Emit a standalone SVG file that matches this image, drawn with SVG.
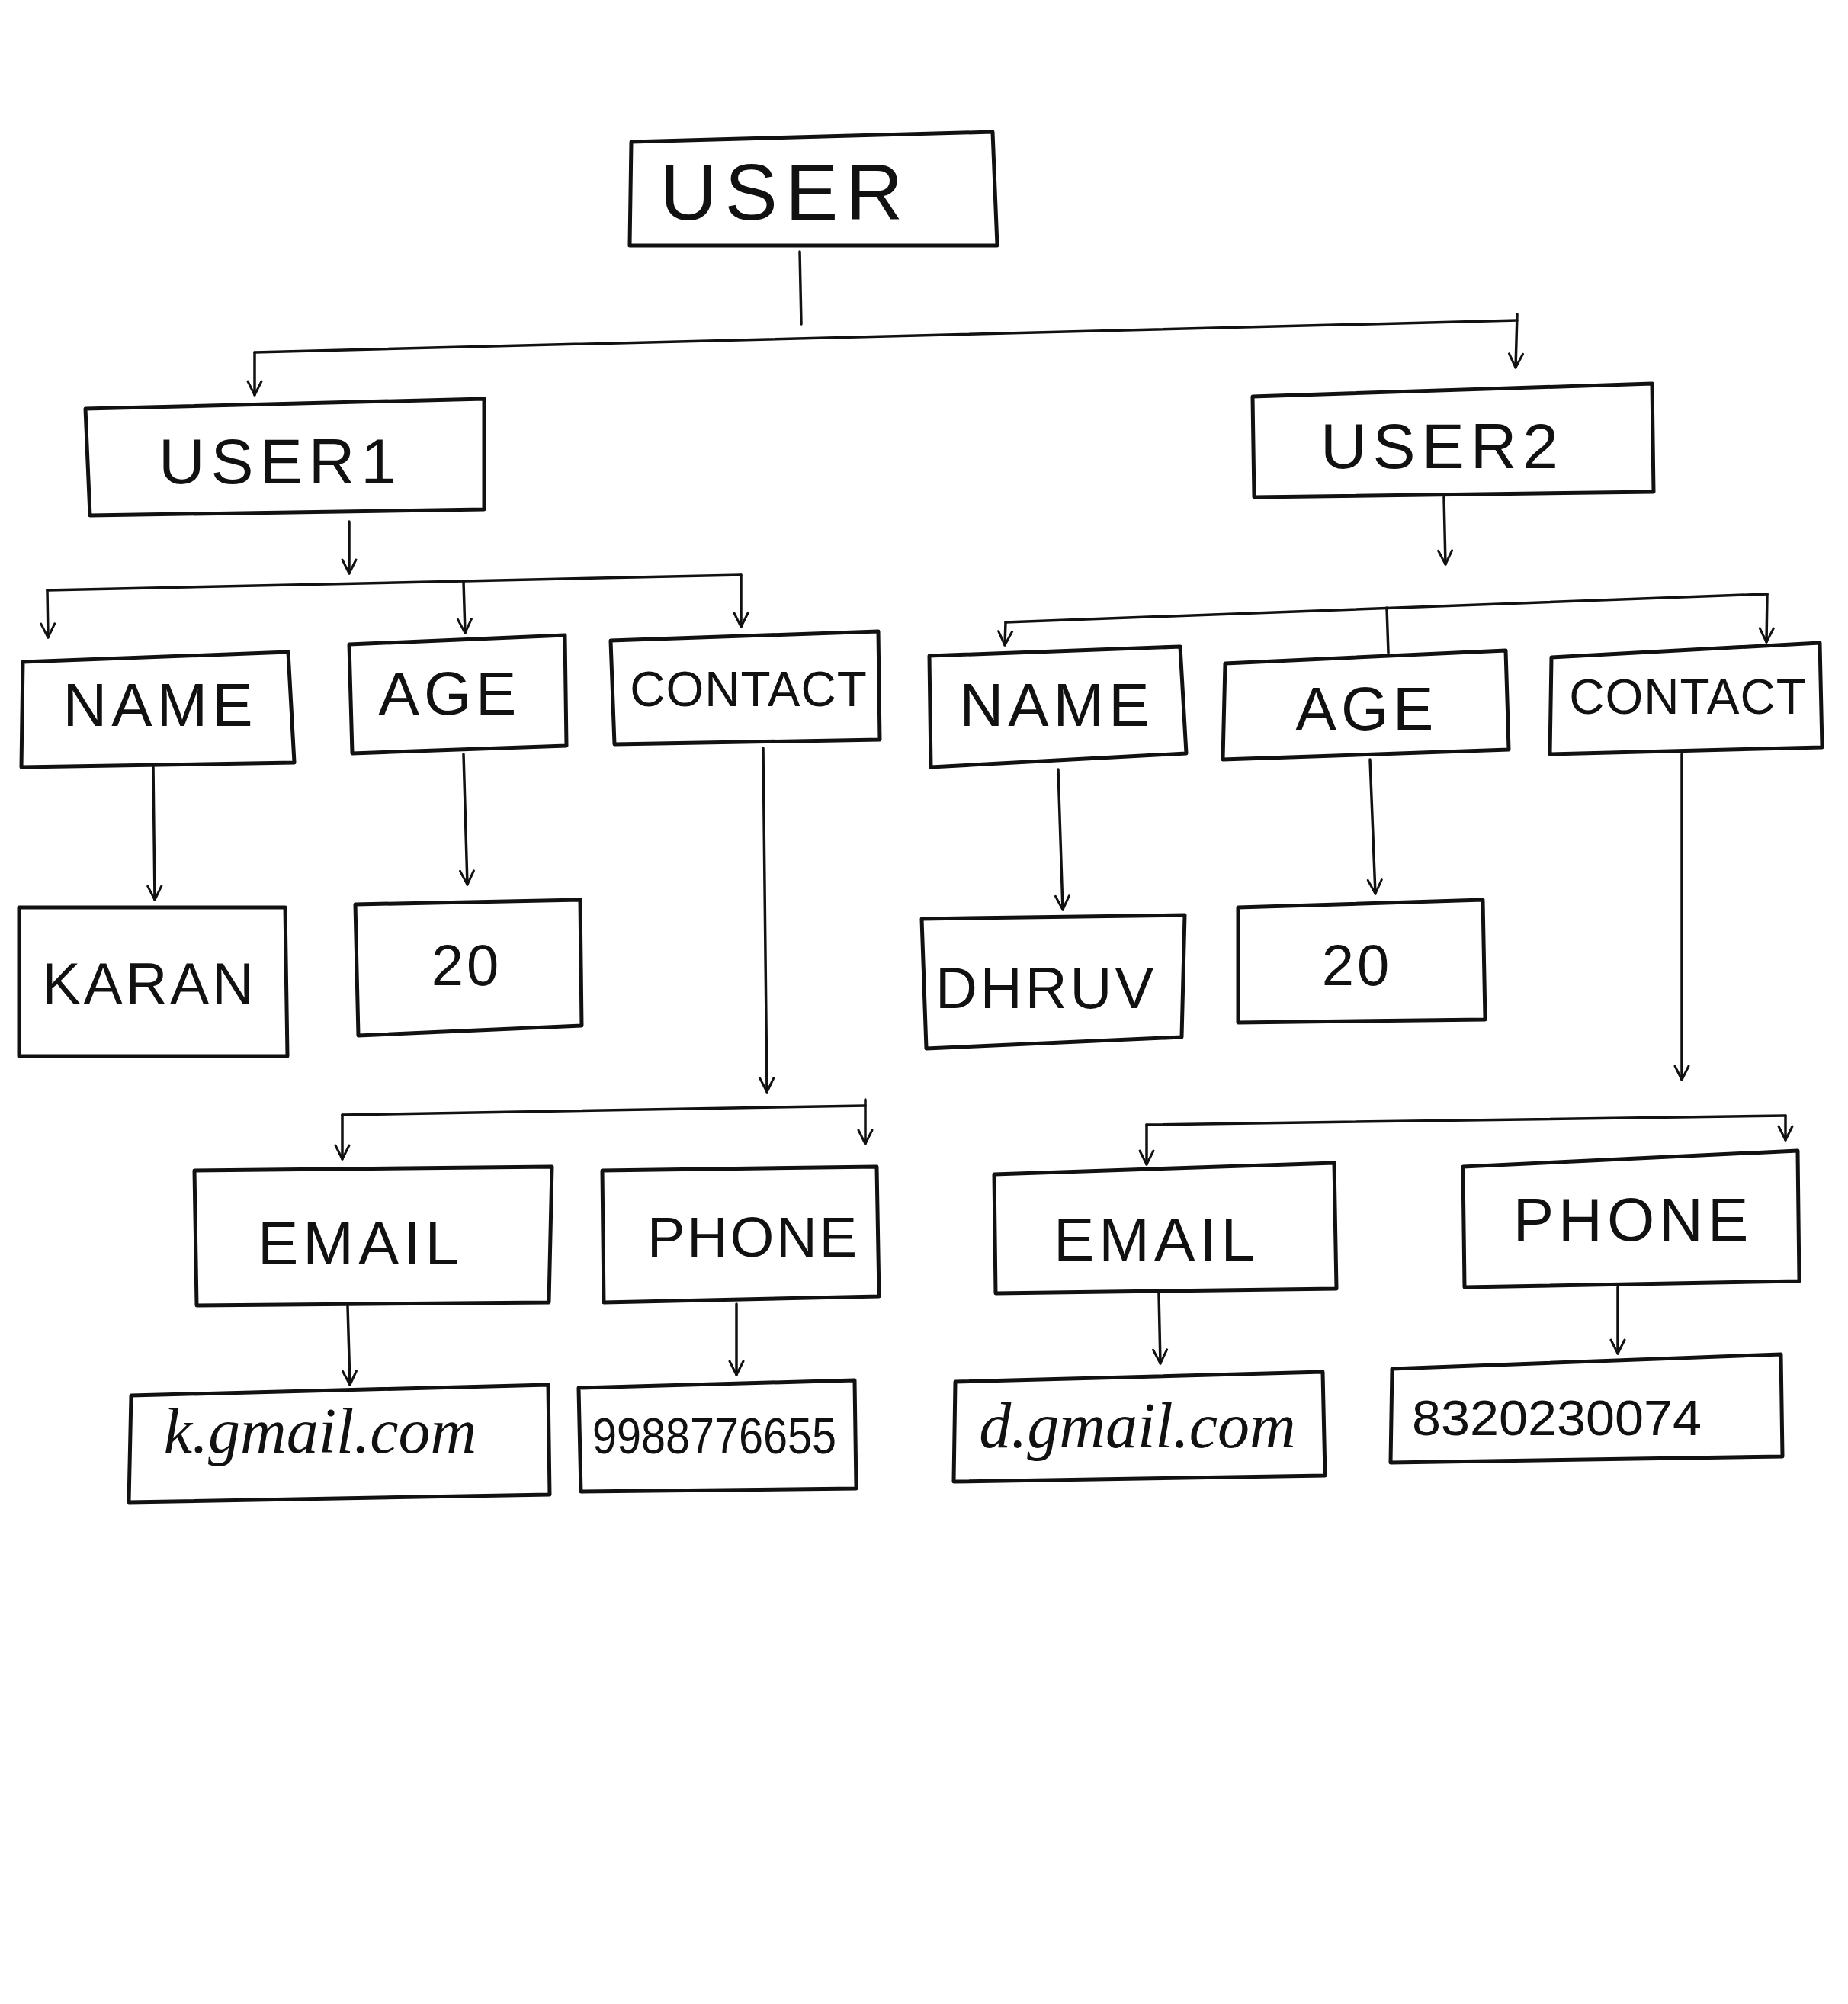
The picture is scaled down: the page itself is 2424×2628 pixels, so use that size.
<svg xmlns="http://www.w3.org/2000/svg" width="2424" height="2628" viewBox="0 0 2424 2628">
<style>
.box{fill:none;stroke:#111;stroke-width:5;stroke-linejoin:round}
.lbl{font-family:"Liberation Sans","DejaVu Sans",sans-serif;fill:#111;text-anchor:middle}
.big{font-size:104px;letter-spacing:10px}
.mid{font-size:84px;letter-spacing:8px}
.sm{font-size:80px;letter-spacing:6px}
.val{font-size:76px;letter-spacing:4px}
.cur{font-family:"Liberation Serif","DejaVu Serif",serif;font-style:italic;font-size:84px}
.con{fill:none;stroke:#111;stroke-width:3.5;stroke-linecap:round}
</style>
<defs>
<marker id="ah" viewBox="0 0 24 24" refX="22" refY="12" markerWidth="24" markerHeight="24" markerUnits="userSpaceOnUse" orient="auto">
<path d="M4,3 L22,12 L4,21" fill="none" stroke="#111" stroke-width="3" stroke-linecap="round" stroke-linejoin="round"/>
</marker>
</defs>
<rect width="2424" height="2628" fill="#fff"/>
<g id="connectors">
<path class="con" d="M1049,330 L1051,425"/>
<path class="con" d="M334,462 L1990,420"/>
<path class="con" d="M334,462 L334,518" marker-end="url(#ah)"/>
<path class="con" d="M1990,412 L1988,482" marker-end="url(#ah)"/>
<path class="con" d="M458,684 L458,752" marker-end="url(#ah)"/>
<path class="con" d="M62,774 L972,754"/>
<path class="con" d="M62,774 L63,836" marker-end="url(#ah)"/>
<path class="con" d="M608,763 L610,830" marker-end="url(#ah)"/>
<path class="con" d="M972,754 L972,822" marker-end="url(#ah)"/>
<path class="con" d="M1894,652 L1896,740" marker-end="url(#ah)"/>
<path class="con" d="M1319,816 L2318,779"/>
<path class="con" d="M1319,816 L1318,846" marker-end="url(#ah)"/>
<path class="con" d="M1819,797 L1821,856"/>
<path class="con" d="M2318,779 L2317,842" marker-end="url(#ah)"/>
<path class="con" d="M201,1006 L203,1180" marker-end="url(#ah)"/>
<path class="con" d="M608,989 L613,1160" marker-end="url(#ah)"/>
<path class="con" d="M1001,981 L1006,1432" marker-end="url(#ah)"/>
<path class="con" d="M449,1462 L1135,1450"/>
<path class="con" d="M449,1462 L449,1520" marker-end="url(#ah)"/>
<path class="con" d="M1135,1442 L1135,1500" marker-end="url(#ah)"/>
<path class="con" d="M1388,1009 L1394,1193" marker-end="url(#ah)"/>
<path class="con" d="M1797,996 L1804,1172" marker-end="url(#ah)"/>
<path class="con" d="M2206,989 L2206,1416" marker-end="url(#ah)"/>
<path class="con" d="M1504,1475 L2342,1463"/>
<path class="con" d="M1504,1475 L1504,1527" marker-end="url(#ah)"/>
<path class="con" d="M2342,1463 L2342,1495" marker-end="url(#ah)"/>
<path class="con" d="M456,1713 L459,1816" marker-end="url(#ah)"/>
<path class="con" d="M966,1710 L966,1803" marker-end="url(#ah)"/>
<path class="con" d="M1520,1696 L1522,1788" marker-end="url(#ah)"/>
<path class="con" d="M2122,1688 L2122,1775" marker-end="url(#ah)"/>
</g>
<g id="user">
<path class="box" d="M828,186 L1302,173 L1308,322 L826,322 Z"/>
<text class="lbl big" x="1030" y="288">USER</text>
</g>
<g id="user1">
<path class="box" d="M112,536 L635,523 L635,668 L118,676 Z"/>
<text class="lbl mid" x="368" y="634">USER1</text>
</g>
<g id="user2">
<path class="box" d="M1643,520 L2167,503 L2169,645 L1645,652 Z"/>
<text class="lbl mid" x="1892" y="614">USER2</text>
</g>
<g id="name1">
<path class="box" d="M30,868 L378,855 L386,1000 L28,1006 Z"/>
<text class="lbl sm" x="210" y="952">NAME</text>
</g>
<g id="age1">
<path class="box" d="M458,845 L741,833 L743,978 L462,988 Z"/>
<text class="lbl sm" x="590" y="937">AGE</text>
</g>
<g id="contact1">
<path class="box" d="M801,840 L1152,828 L1154,970 L806,976 Z"/>
<text class="lbl" style="font-size:64px;letter-spacing:1px" x="982" y="926">CONTACT</text>
</g>
<g id="name2">
<path class="box" d="M1219,860 L1548,848 L1556,988 L1221,1006 Z"/>
<text class="lbl sm" x="1386" y="952">NAME</text>
</g>
<g id="age2">
<path class="box" d="M1607,870 L1975,853 L1979,983 L1604,996 Z"/>
<text class="lbl sm" x="1793" y="957">AGE</text>
</g>
<g id="contact2">
<path class="box" d="M2035,862 L2387,843 L2390,980 L2033,989 Z"/>
<text class="lbl" style="font-size:64px;letter-spacing:1px" x="2214" y="936">CONTACT</text>
</g>
<g id="karan">
<path class="box" d="M25,1190 L374,1190 L377,1385 L25,1385 Z"/>
<text class="lbl val" x="196" y="1316">KARAN</text>
</g>
<g id="age1val">
<path class="box" d="M466,1186 L761,1180 L763,1345 L470,1358 Z"/>
<text class="lbl val" x="612" y="1292">20</text>
</g>
<g id="dhruv">
<path class="box" d="M1209,1205 L1554,1200 L1550,1360 L1215,1375 Z"/>
<text class="lbl val" x="1372" y="1322">DHRUV</text>
</g>
<g id="age2val">
<path class="box" d="M1624,1190 L1945,1180 L1948,1337 L1624,1341 Z"/>
<text class="lbl val" x="1780" y="1292">20</text>
</g>
<g id="email1">
<path class="box" d="M255,1535 L724,1530 L720,1708 L258,1712 Z"/>
<text class="lbl sm" x="473" y="1658">EMAIL</text>
</g>
<g id="phone1">
<path class="box" d="M790,1535 L1150,1530 L1153,1700 L792,1708 Z"/>
<text class="lbl" style="font-size:74px;letter-spacing:3px" x="988" y="1648">PHONE</text>
</g>
<g id="email2">
<path class="box" d="M1304,1540 L1750,1525 L1753,1690 L1306,1696 Z"/>
<text class="lbl sm" x="1517" y="1653">EMAIL</text>
</g>
<g id="phone2">
<path class="box" d="M1919,1530 L2358,1509 L2360,1680 L1921,1688 Z"/>
<text class="lbl sm" x="2142" y="1627">PHONE</text>
</g>
<g id="kmail">
<path class="box" d="M172,1830 L719,1816 L721,1960 L169,1970 Z"/>
<text class="lbl cur" x="420" y="1905">k.gmail.com</text>
</g>
<g id="phone1val">
<path class="box" d="M759,1820 L1121,1810 L1123,1952 L762,1956 Z"/>
<text class="lbl" style="font-size:66px" x="937" y="1906" textLength="320" lengthAdjust="spacingAndGlyphs">9988776655</text>
</g>
<g id="dmail">
<path class="box" d="M1253,1812 L1735,1799 L1738,1935 L1251,1943 Z"/>
<text class="lbl cur" x="1492" y="1898">d.gmail.com</text>
</g>
<g id="phone2val">
<path class="box" d="M1826,1795 L2336,1776 L2338,1910 L1824,1918 Z"/>
<text class="lbl" style="font-size:64px" x="2042" y="1882" textLength="380" lengthAdjust="spacingAndGlyphs">8320230074</text>
</g>
</svg>
